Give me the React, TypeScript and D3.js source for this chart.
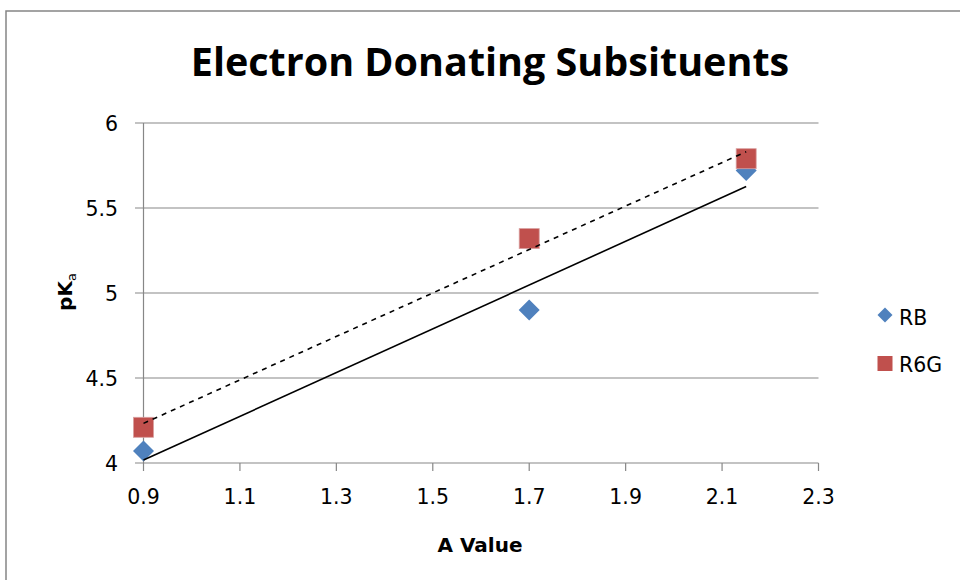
import React from "react";
import * as d3 from "d3";

const xVals = [0.9, 1.7, 2.15];
const rbVals = [4.07, 4.9, 5.72];
const r6gVals = [4.21, 5.32, 5.79];
const xTicks = [0.9, 1.1, 1.3, 1.5, 1.7, 1.9, 2.1, 2.3];
const yTicks = [4, 4.5, 5, 5.5, 6];
const seriesNames = ["RB", "R6G"];
const seriesColors = ["#4F81BD", "#C0504D"];

function linReg(xs: number[], ys: number[]) {
  const mx = d3.mean(xs)!;
  const my = d3.mean(ys)!;
  let sxy = 0, sxx = 0;
  xs.forEach((x, i) => { sxy += (x - mx) * (ys[i] - my); sxx += (x - mx) ** 2; });
  const slope = sxy / sxx;
  return (x: number) => my + slope * (x - mx);
}

export default function App() {
  const W = 960, H = 580;
  const x = d3.scaleLinear().domain([0.9, 2.3]).range([143.5, 818.5]);
  const y = d3.scaleLinear().domain([4, 6]).range([463, 123]);
  const titleFont = "'Open Sans', 'Liberation Sans', sans-serif";
  const font = "'DejaVu Sans', sans-serif";
  const gridColor = "#878787";

  const rbFit = linReg(xVals, rbVals);
  const r6Fit = linReg(xVals, r6gVals);
  const xMin = d3.min(xVals)!, xMax = d3.max(xVals)!;
  const line = d3.line<number>().x((d) => x(d));

  const diamond = (cx: number, cy: number, r: number) =>
    `M${cx},${cy - r}L${cx + r},${cy}L${cx},${cy + r}L${cx - r},${cy}Z`;

  return (
    <svg width={W} height={H} style={{ position: "fixed", left: 0, top: 0, background: "#fff" }}>
      <rect x={6} y={11} width={W + 20} height={H + 20} fill="#fff" stroke="#858585" strokeWidth={1.5} />
      <text x={490} y={76} textAnchor="middle" fontFamily={titleFont} fontWeight="bold" fontSize={39.5}>
        Electron Donating Subsituents
      </text>
      {yTicks.map((t) => (
        <g key={"y" + t}>
          <line x1={135} x2={818.5} y1={y(t)} y2={y(t)} stroke={gridColor} strokeWidth={1.2} />
          <text x={118} y={y(t) + 7.5} textAnchor="end" fontFamily={font} fontSize={20.5}>{t}</text>
        </g>
      ))}
      <line x1={x(0.9)} x2={x(0.9)} y1={123} y2={463} stroke={gridColor} strokeWidth={1.2} />
      {xTicks.map((t) => (
        <g key={"x" + t}>
          <line x1={x(t)} x2={x(t)} y1={463} y2={471} stroke={gridColor} strokeWidth={1.2} />
          <text x={x(t)} y={504} textAnchor="middle" fontFamily={font} fontSize={20.5}>{t.toFixed(1)}</text>
        </g>
      ))}
      <text x={480} y={552} textAnchor="middle" fontFamily={font} fontWeight="bold" fontSize={20}>A Value</text>
      <text transform="translate(72,292) rotate(-90)" textAnchor="middle" fontFamily={font} fontWeight="bold" fontSize={20}>
        pK<tspan fontSize={13} fontWeight="normal" dy={4}>a</tspan>
      </text>

      {xVals.map((xv, i) => (
        <path key={"rb" + i} d={diamond(x(xv), y(rbVals[i]), 10.5)} fill={seriesColors[0]} />
      ))}
      {xVals.map((xv, i) => (
        <rect key={"r6" + i} x={x(xv) - 10} y={y(r6gVals[i]) - 10} width={20} height={20} fill={seriesColors[1]} stroke="#D9A0A0" strokeWidth={0.8} />
      ))}

      <path d={line.y((d) => y(rbFit(d)))([xMin, xMax]) || ""} stroke="#000" strokeWidth={1.6} fill="none" />
      <path d={line.y((d) => y(r6Fit(d)))([xMin, xMax]) || ""} stroke="#000" strokeWidth={1.6} fill="none" strokeDasharray="5,5" />

      {seriesNames.map((n, i) => (
        <g key={n}>
          {i === 0 ? (
            <path d={diamond(885, 315, 7.5)} fill={seriesColors[0]} />
          ) : (
            <rect x={877.5} y={356} width={15} height={15} fill={seriesColors[1]} />
          )}
          <text x={899} y={i === 0 ? 325 : 372} fontFamily={font} fontSize={20.5}>{n}</text>
        </g>
      ))}
    </svg>
  );
}
